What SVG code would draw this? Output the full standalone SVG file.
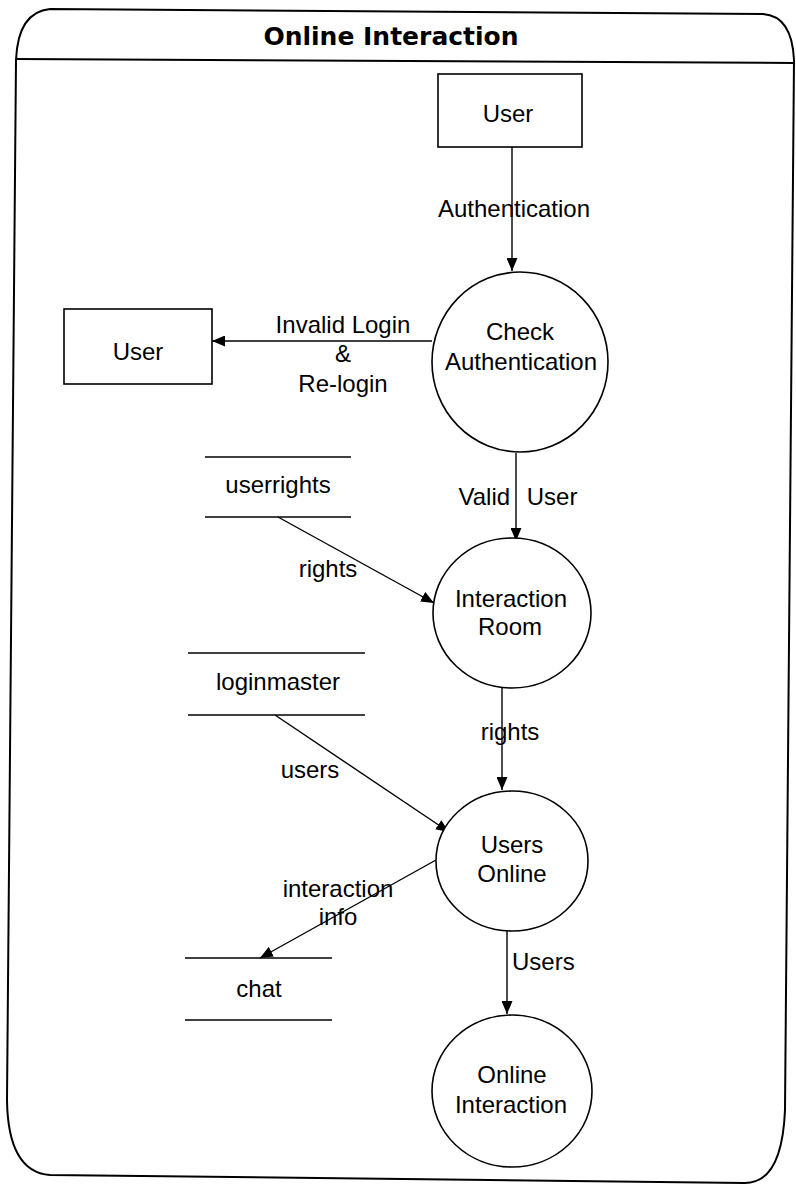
<svg xmlns="http://www.w3.org/2000/svg" width="796" height="1188" viewBox="0 0 796 1188">
<style>
.bg{fill:#fff}
.frame{fill:none;stroke:#000;stroke-width:2}
.shape{fill:#fff;stroke:#000;stroke-width:1.6}
.store{stroke:#000;stroke-width:1.6}
.conn{fill:none;stroke:#000;stroke-width:1.4}
.t{font-family:"Liberation Sans",Arial,sans-serif;font-size:24px;fill:#000;text-anchor:middle}
.title{font-family:"DejaVu Sans",Verdana,sans-serif;font-weight:bold;font-size:25px;fill:#000;text-anchor:middle}
</style>
<defs>
<marker id="arr" markerWidth="13" markerHeight="11" refX="13" refY="5.5" orient="auto" markerUnits="userSpaceOnUse">
<path d="M0,0 L13,5.5 L0,11 z" fill="#000"/>
</marker>
</defs>
<rect class="bg" x="0" y="0" width="796" height="1188"/>
<g id="frame">
<path class="frame" d="M50,9 L763,14 Q792,16 794,60 L785,1110 Q782,1183 745,1183 L50,1175 Q8,1172 7,1100 L16,60 Q18,12 50,9 Z"/>
<path class="frame" d="M16,59 L794,63"/>
<text class="title" x="391" y="45">Online Interaction</text>
</g>
<g id="connectors">
<path class="conn" d="M512,147 L512,271" marker-end="url(#arr)"/>
<path class="conn" d="M432,341 L212,341" marker-end="url(#arr)"/>
<path class="conn" d="M516,453 L516,541" marker-end="url(#arr)"/>
<path class="conn" d="M278,517 L434,603" marker-end="url(#arr)"/>
<path class="conn" d="M502,688 L502,790" marker-end="url(#arr)"/>
<path class="conn" d="M275,715 L449,832" marker-end="url(#arr)"/>
<path class="conn" d="M436,860 L260,958" marker-end="url(#arr)"/>
<path class="conn" d="M507,930 L507,1014" marker-end="url(#arr)"/>
<text class="t" x="514" y="217">Authentication</text>
<text class="t" x="343" y="333">Invalid Login</text>
<text class="t" x="343" y="362">&amp;</text>
<text class="t" x="343" y="392">Re-login</text>
<text class="t" x="518" y="505" word-spacing="10">Valid User</text>
<text class="t" x="328" y="577">rights</text>
<text class="t" x="510" y="740">rights</text>
<text class="t" x="310" y="778">users</text>
<text class="t" x="338" y="897">interaction</text>
<text class="t" x="338" y="925">info</text>
<text class="t" x="512" y="970" style="text-anchor:start">Users</text>
</g>
<g id="user-top">
<rect class="shape" x="438" y="74" width="144" height="73"/>
<text class="t" x="508" y="122">User</text>
</g>
<g id="user-left">
<rect class="shape" x="64" y="309" width="148" height="75"/>
<text class="t" x="138" y="360">User</text>
</g>
<g id="check-authentication">
<ellipse class="shape" cx="520" cy="362" rx="88" ry="90"/>
<text class="t" x="520" y="340">Check</text>
<text class="t" x="521" y="370">Authentication</text>
</g>
<g id="userrights">
<line class="store" x1="205" y1="457" x2="351" y2="457"/>
<line class="store" x1="205" y1="517" x2="351" y2="517"/>
<text class="t" x="278" y="493">userrights</text>
</g>
<g id="interaction-room">
<ellipse class="shape" cx="512" cy="613" rx="79" ry="75"/>
<text class="t" x="511" y="607">Interaction</text>
<text class="t" x="510" y="635">Room</text>
</g>
<g id="loginmaster">
<line class="store" x1="188" y1="653" x2="365" y2="653"/>
<line class="store" x1="188" y1="715" x2="365" y2="715"/>
<text class="t" x="278" y="690">loginmaster</text>
</g>
<g id="users-online">
<ellipse class="shape" cx="512" cy="861" rx="76" ry="70"/>
<text class="t" x="512" y="853">Users</text>
<text class="t" x="512" y="882">Online</text>
</g>
<g id="chat">
<line class="store" x1="185" y1="958" x2="332" y2="958"/>
<line class="store" x1="185" y1="1020" x2="332" y2="1020"/>
<text class="t" x="259" y="997">chat</text>
</g>
<g id="online-interaction">
<ellipse class="shape" cx="512" cy="1091" rx="80" ry="76"/>
<text class="t" x="512" y="1083">Online</text>
<text class="t" x="511" y="1113">Interaction</text>
</g>
</svg>
